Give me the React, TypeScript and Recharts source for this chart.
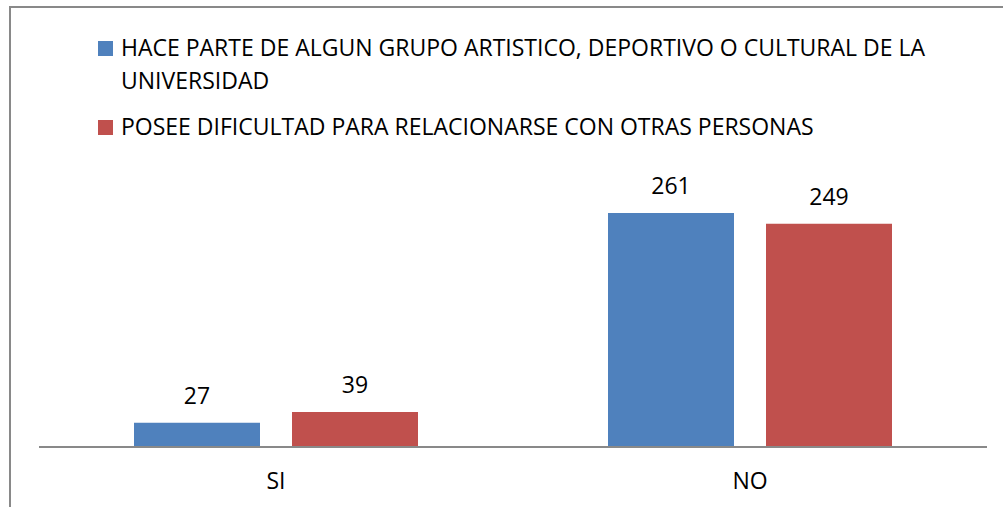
import React from 'react';
import { BarChart, Bar, XAxis, YAxis, Legend, LabelList } from 'recharts';

const categories = ['SI', 'NO'];
const grupoValues = [27, 261];
const dificultadValues = [39, 249];
const seriesNames = [
    'HACE PARTE DE ALGUN GRUPO ARTISTICO, DEPORTIVO O CULTURAL DE LA UNIVERSIDAD',
    'POSEE DIFICULTAD PARA RELACIONARSE CON OTRAS PERSONAS',
];
const seriesColors = ['#4F81BD', '#C0504D'];

const data = categories.map((cat, i) => ({
    name: cat,
    grupo: grupoValues[i],
    dificultad: dificultadValues[i],
}));

const FONT = '"Open Sans", sans-serif';

const renderLegend = (props: any) => {
    const { payload } = props;
    return (
        <div style={{ fontFamily: FONT, fontSize: 23, color: '#000' }}>
            {payload.map((entry: any, i: number) => (
                <div key={i} style={{ display: 'flex', alignItems: 'flex-start', marginBottom: 13 }}>
                    <div
                        style={{
                            width: 15,
                            height: 15,
                            background: entry.color,
                            marginTop: 10,
                            marginRight: 8,
                            flexShrink: 0,
                        }}
                    />
                    <div style={{ lineHeight: '33px', maxWidth: 850 }}>{entry.value}</div>
                </div>
            ))}
        </div>
    );
};

const App: React.FC = () => {
    return (
        <div style={{ position: 'absolute', left: 0, top: 0, width: 1003, height: 507, background: '#fff' }}>
            <div
                style={{
                    position: 'absolute',
                    left: 9,
                    top: 6,
                    width: 994,
                    height: 501,
                    borderTop: '2px solid #898989',
                    borderLeft: '2px solid #898989',
                }}
            />
            <BarChart
                width={1003}
                height={507}
                data={data}
                margin={{ top: 178, right: 16, bottom: 0, left: 39 }}
                barSize={126}
                barGap={32}
            >
                <XAxis
                    dataKey="name"
                    height={60}
                    tickLine={false}
                    tickSize={0}
                    tickMargin={26}
                    stroke="#898989"
                    strokeWidth={2}
                    tick={{ fill: '#000', fontSize: 23, fontFamily: FONT }}
                />
                <YAxis hide domain={[0, 300]} />
                <Legend
                    layout="horizontal"
                    verticalAlign="middle"
                    align="center"
                    content={renderLegend}
                    wrapperStyle={{ top: 31, left: 98, width: 890 }}
                />
                <Bar dataKey="grupo" name={seriesNames[0]} fill={seriesColors[0]} isAnimationActive={false}>
                    <LabelList
                        dataKey="grupo"
                        position="top"
                        offset={19}
                        style={{ fill: '#000', fontSize: 23, fontFamily: FONT }}
                    />
                </Bar>
                <Bar dataKey="dificultad" name={seriesNames[1]} fill={seriesColors[1]} isAnimationActive={false}>
                    <LabelList
                        dataKey="dificultad"
                        position="top"
                        offset={19}
                        style={{ fill: '#000', fontSize: 23, fontFamily: FONT }}
                    />
                </Bar>
            </BarChart>
        </div>
    );
};

export default App;
